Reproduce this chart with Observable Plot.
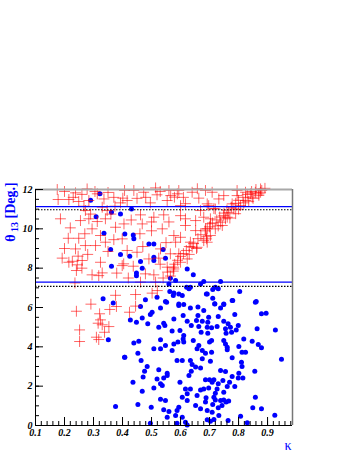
<!DOCTYPE html>
<html><head><meta charset="utf-8">
<script src="https://cdn.jsdelivr.net/npm/d3@7"></script>
<script src="https://cdn.jsdelivr.net/npm/@observablehq/plot@0.6"></script>
<style>body{margin:0;background:#fff} svg{display:block}</style>
</head><body><div id="chart"></div>
<script>
// ---- axis setup ----
const xDomain = [0.1, 0.986];
const yDomain = [0, 12];
const xMajorTicks = [0.1, 0.2, 0.3, 0.4, 0.5, 0.6, 0.7, 0.8, 0.9];
const xMinorTicks = d3.range(0.1, 0.985, 0.02);
const yMajorTicks = [0, 2, 4, 6, 8, 10, 12];
const yMinorTicks = d3.range(0, 12.01, 0.5);

// ---- reference levels ----
const blueLevels = [11.13, 7.29];
const dottedLevels = [10.97, 7.07];

// ---- blue points (kappa, theta13) ----
const blueKappa = [
0.322,0.290,0.362,0.393,0.309,0.336,0.408,0.359,0.393,0.362,0.333,0.368,0.431,0.437,0.439,0.491,0.508,0.540,0.425,0.462,
0.468,0.508,0.508,0.548,0.448,0.448,0.623,0.644,0.565,0.583,0.680,0.669,0.560,0.621,0.629,0.634,0.563,0.577,0.594,0.606,
0.575,0.519,0.479,0.548,0.594,0.689,0.738,0.720,0.730,0.711,0.692,0.711,0.718,0.749,0.780,0.804,0.861,
0.462,0.531,0.552,0.594,0.611,0.634,0.660,0.680,0.502,0.496,0.468,0.427,0.448,0.487,0.525,0.546,0.542,0.577,0.609,0.623,
0.637,0.660,0.655,0.663,0.675,0.694,0.598,0.571,0.611,0.609,0.671,0.694,0.439,0.456,0.531,0.548,0.508,0.531,0.577,0.591,
0.611,0.644,0.663,0.657,0.675,0.571,0.453,0.407,0.464,0.485,0.476,0.471,0.525,0.554,0.554,0.542,0.606,0.588,0.634,0.640,
0.652,0.637,0.629,0.669,0.675,0.436,0.519,0.531,0.508,0.468,0.537,0.598,0.617,0.634,0.623,0.669,0.680,0.657,0.531,0.548,
0.606,0.623,0.499,0.453,0.542,0.560,0.594,0.588,0.652,0.669,0.686,0.692,0.554,0.583,0.606,0.617,0.588,0.496,0.623,
0.718,0.738,0.749,0.778,0.858,0.697,0.730,0.787,0.879,0.895,0.749,0.764,0.772,0.755,0.757,0.776,0.792,0.799,0.692,0.707,
0.726,0.864,0.927,0.818,0.847,0.868,0.879,0.700,0.707,0.749,0.755,0.761,0.761,0.801,0.812,0.824,0.686,0.707,0.778,0.948,
0.703,0.810,0.812,0.738,0.755,0.856,0.801,0.799,0.778,0.815,0.686,0.700,0.715,0.709,0.730,0.746,0.769,0.761,0.787,0.697,
0.726,0.720,0.749,0.715,0.688,0.720,0.738,0.749,0.757,0.766,0.743,0.711,0.730,0.858,0.849,0.879,0.709,0.732,0.692,0.703,
0.715,0.764,0.807,0.830,0.925,
0.351,0.408,0.376
];
const blueTheta = [
11.78,11.45,10.84,10.76,10.61,9.78,9.74,8.95,8.69,8.10,6.44,6.23,11.01,9.69,9.49,9.23,9.23,8.95,8.61,8.34,
8.00,8.56,8.39,8.51,7.76,7.62,7.96,7.66,7.49,7.37,7.32,7.20,7.20,7.03,6.95,7.03,6.81,6.74,6.69,6.61,
6.61,6.52,6.40,6.30,6.18,6.69,7.32,7.03,6.95,6.91,6.69,6.47,6.18,6.18,6.35,6.81,6.30,
6.05,5.98,6.27,6.10,6.15,5.98,6.02,5.85,5.76,5.64,5.47,5.37,5.25,5.17,5.00,5.08,5.20,5.42,5.59,5.30,
5.08,5.59,5.34,5.03,5.30,5.25,4.83,4.80,4.58,4.40,4.74,4.69,4.19,4.29,4.36,4.07,3.90,3.90,4.15,4.24,
4.24,4.32,4.07,3.90,3.81,3.81,3.68,3.47,3.30,3.00,2.76,2.46,2.83,2.66,2.54,2.42,3.30,3.30,3.30,3.10,
2.97,2.76,2.54,2.93,3.39,2.20,2.37,2.12,1.91,1.74,2.03,2.20,1.86,1.86,1.61,1.81,1.86,1.52,1.34,1.27,
1.44,1.27,0.93,1.07,0.80,0.71,0.93,0.76,1.02,0.85,1.19,0.76,0.42,0.51,0.42,0.17,0.12,0.12,0.02,
6.19,5.98,6.15,6.36,6.27,5.51,5.54,5.64,5.68,5.71,5.30,5.17,5.00,4.92,4.69,4.74,4.86,5.08,5.00,4.97,
5.03,4.92,4.86,4.40,4.29,4.12,3.95,4.24,4.32,4.32,4.15,3.98,3.85,4.02,3.73,3.73,3.68,3.73,3.44,3.37,
3.27,3.22,3.00,2.80,2.74,2.76,2.66,2.42,2.49,2.42,2.32,2.32,2.32,2.20,2.12,2.29,2.20,1.98,1.98,1.91,
1.86,1.64,1.69,1.44,1.41,1.30,1.27,1.30,1.19,1.24,1.02,1.07,0.90,1.44,0.90,0.85,0.68,0.51,0.29,0.22,
0.30,0.25,0.47,0.14,0.52,
4.36,3.47,0.97
];

// ---- red crosses (kappa, theta13) ----
const redKappa = [
0.175,0.238,0.305,0.313,0.278,0.178,0.215,0.249,0.284,0.336,0.401,0.267,0.330,0.374,0.393,0.347,0.272,0.186,0.255,0.284,
0.313,0.341,0.376,0.405,0.213,0.249,0.295,0.307,0.341,0.324,0.272,0.238,0.192,0.215,0.247,0.244,0.261,0.324,0.399,0.295,
0.318,0.330,0.236,
0.407,0.439,0.473,0.514,0.519,0.579,0.594,0.640,0.663,0.686,0.416,0.496,0.554,0.600,0.692,0.462,0.508,0.542,0.600,0.617,
0.652,0.686,0.468,0.537,0.577,0.634,0.657,0.690,0.399,0.416,0.450,0.531,0.565,0.594,0.623,0.491,0.525,0.404,0.437,0.479,
0.508,0.554,0.577,0.462,0.514,
0.709,0.732,0.749,0.795,0.795,0.824,0.858,0.876,0.891,0.847,0.824,0.807,0.784,0.766,0.697,0.720,0.755,0.738,0.749,0.703,
0.720,0.703,0.692,0.818,0.870,0.778,
0.576,0.610,0.640,0.680,0.692,0.703,0.744,0.761,0.790,0.841,0.876,0.566,0.589,0.617,0.658,0.669,0.715,0.680,0.652,0.617,
0.600,0.583,
0.590,0.600,0.620,0.630,0.645,0.660,0.670,0.685,0.700,0.710,0.725,0.735,0.750,0.760,0.775,0.790,0.800,0.815,0.830,0.845,
0.860,0.880,0.580,0.575,0.565,0.555,0.540,0.630,0.655,0.690,0.730,0.770,0.800,0.835,0.850,0.870,
0.241,0.252,0.252,0.291,0.321,0.324,0.316,0.330,0.353,0.338,0.310,0.318,0.356,0.376,0.379,0.424,0.445,0.445,0.502,0.520,
0.227,0.241,
0.200,0.230,0.260,0.350,0.370,0.450,0.480,0.530,0.560,0.610,0.290,0.360,0.430,0.500,0.560,0.220,0.270,0.370,0.460,0.500,
0.550,0.200,0.280,0.350,0.470,0.260,0.380,0.420,0.530,0.600
];
const redTheta = [
12.00,11.83,11.90,11.78,12.03,11.49,11.49,11.39,11.44,11.52,11.56,11.15,11.10,11.15,11.32,10.93,10.93,10.51,10.42,10.51,
10.37,10.51,10.08,10.25,9.52,9.52,10.00,9.15,9.32,9.66,9.15,8.98,8.51,8.30,8.61,8.17,8.39,8.30,8.13,7.66,
7.62,7.76,7.25,
11.95,11.95,11.86,12.08,11.73,11.61,11.95,11.86,11.56,11.95,11.44,11.32,11.44,11.18,11.27,10.71,10.59,10.71,10.67,10.51,
10.42,10.00,10.25,10.00,9.66,9.32,9.06,9.49,9.49,8.90,8.81,8.98,8.73,8.73,8.47,8.47,8.51,8.22,8.10,7.71,
7.66,8.05,7.96,7.29,7.29,
11.86,11.52,11.69,11.95,11.69,11.86,11.86,12.03,12.06,11.61,11.44,11.18,11.01,10.84,11.18,11.01,10.51,10.34,10.67,10.51,
10.00,9.66,9.32,11.32,11.78,11.27,
8.05,8.74,9.07,9.40,10.00,10.26,10.17,10.59,10.77,11.78,11.86,11.69,11.78,11.28,12.04,10.93,11.03,10.59,9.91,10.17,
9.57,9.32,
8.40,8.60,8.90,9.10,9.25,9.50,9.70,9.90,10.10,10.30,10.45,10.60,10.80,10.95,11.10,11.30,11.45,11.60,11.75,11.90,
12.00,11.95,8.20,7.85,7.60,7.80,7.50,8.70,9.00,9.60,10.15,10.55,11.00,11.40,11.55,11.70,
5.81,4.86,4.27,6.17,5.68,5.37,5.20,5.12,5.03,4.74,4.49,4.37,5.90,6.62,6.05,5.76,6.07,6.66,6.73,6.86,
8.35,7.88,
11.90,11.60,11.75,11.85,11.60,11.55,11.60,11.90,11.95,11.60,10.75,10.75,10.45,10.35,10.35,10.05,9.75,9.45,9.75,9.90,
9.30,9.00,8.70,8.85,9.10,8.00,7.75,7.50,8.20,8.30
];

const blue = blueKappa.map((k, i) => ({k, t: blueTheta[i]}));
const red = redKappa.map((k, i) => ({k, t: redTheta[i]}));

const W = 354, H = 458;
const mL = 35, mR = 62, mT = 189, mB = 33;
const innerW = W - mL - mR, innerH = H - mT - mB;
const tickFont = {fontFamily: "Liberation Serif", fontWeight: "bold", fontStyle: "italic", fontSize: 10, fill: "black"};

const chart = Plot.plot({
  width: W, height: H,
  marginLeft: mL, marginRight: mR, marginTop: mT, marginBottom: mB,
  x: {domain: xDomain, axis: null},
  y: {domain: yDomain, axis: null},
  style: {background: "white", overflow: "visible"},
  marks: [
    Plot.dot(blue, {x: "k", y: "t", r: 2.5, fill: "#0000ff", stroke: "none"}),
    Plot.dot(red, {x: "k", y: "t", symbol: "plus", r: 3.6, stroke: "#ff0000", strokeOpacity: 0.6, strokeWidth: 1}),
    Plot.ruleY(blueLevels, {stroke: "#0000ff", strokeWidth: 1.2}),
    Plot.ruleY(dottedLevels, {stroke: "#000", strokeWidth: 1.2, strokeDasharray: "1.5,1.5"}),
    Plot.ruleY([yDomain[1]], {stroke: "#a8a8a8", strokeWidth: 2}),
    Plot.ruleX([xDomain[1]], {stroke: "#777", strokeWidth: 1.5}),
    Plot.ruleX([xDomain[0]], {stroke: "#000", strokeWidth: 1}),
    Plot.ruleY([yDomain[0]], {stroke: "#000", strokeWidth: 1}),
    Plot.tickY(yMinorTicks, {y: d => d, insetRight: innerW - 4, stroke: "#000"}),
    Plot.tickY(yMajorTicks, {y: d => d, insetRight: innerW - 8, stroke: "#000"}),
    Plot.tickX(xMinorTicks, {x: d => d, insetTop: innerH - 4, stroke: "#000"}),
    Plot.tickX(xMajorTicks, {x: d => d, insetTop: innerH - 8, stroke: "#000"}),
    Plot.axisY({ticks: yMajorTicks, tickSize: 0, tickPadding: 3, label: null, tickFormat: d => String(d), ...tickFont}),
    Plot.axisX({ticks: xMajorTicks, tickSize: 0, tickPadding: 3, label: null, tickFormat: d3.format(".1f"), ...tickFont})
  ]
});
document.getElementById("chart").appendChild(chart);

const svg = d3.select(chart);
// y-axis title
const yl = svg.append("text")
  .attr("transform", "translate(15,212) rotate(-90)")
  .attr("text-anchor", "middle")
  .attr("fill", "#0000ff")
  .style("font-family", "Liberation Serif")
  .style("font-weight", "bold")
  .style("font-size", "14px");
yl.append("tspan").text("θ");
yl.append("tspan").attr("dy", 3).style("font-size", "10px").text(" 13");
yl.append("tspan").attr("dy", -3).text(" [Deg.]");
// x-axis title
svg.append("text")
  .attr("x", 288).attr("y", 450)
  .attr("text-anchor", "middle")
  .attr("fill", "#0000ff")
  .style("font-family", "Liberation Serif")
  .style("font-size", "14px")
  .text("κ");
</script>
</body></html>
